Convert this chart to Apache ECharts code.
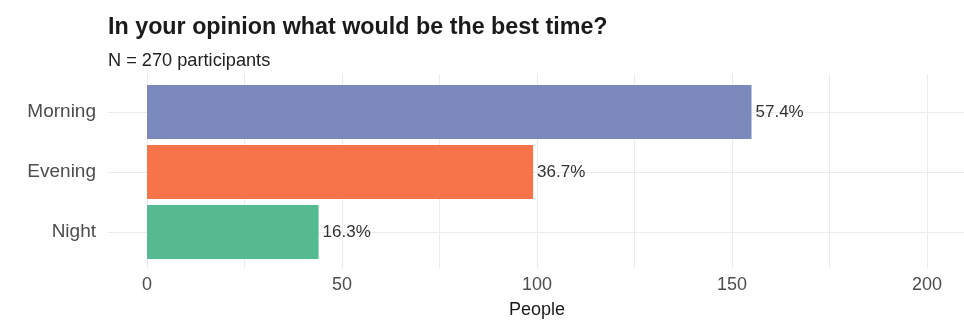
<!DOCTYPE html>
<html>
<head>
<meta charset="utf-8">
<script src="https://cdn.jsdelivr.net/npm/echarts@6/dist/echarts.min.js"></script>
<style>html,body{margin:0;padding:0;background:#fff;}#c{width:964px;height:322px;}</style>
</head>
<body>
<div id="c"></div>
<script>
const categories = ['Night', 'Evening', 'Morning'];
const people = [44, 99, 155];
const percentLabels = ['16.3%', '36.7%', '57.4%'];
const barColors = ['#55ba8f', '#f7744b', '#7b89bd'];
const xTickLabels = [0, 50, 100, 150, 200];
const xGridValues = [0, 25, 50, 75, 100, 125, 150, 175, 200];

const FONT = '"Liberation Sans", Arial, sans-serif';
const chart = echarts.init(document.getElementById('c'), null, {renderer: 'canvas'});
chart.setOption({
  backgroundColor: '#ffffff',
  animation: false,
  textStyle: {fontFamily: FONT},
  title: [
    {text: 'In your opinion what would be the best time?', left: 108, top: 16, padding: 0,
     textStyle: {fontSize: 23.3, fontWeight: 'bold', color: '#1a1a1a', fontFamily: FONT}},
    {text: 'N = 270 participants', left: 108, top: 52, padding: 0,
     textStyle: {fontSize: 18.2, fontWeight: 'normal', color: '#222', fontFamily: FONT}}
  ],
  grid: [
    {left: 108, right: -2, top: 82, bottom: 60, containLabel: false, outerBoundsMode: 'none'},
    {left: 108, right: -2, top: 74, bottom: 54, containLabel: false, outerBoundsMode: 'none'}
  ],
  xAxis: [
    {type: 'value', gridIndex: 0, min: -10, max: 210, show: false,
     splitLine: {show: false}},
    {type: 'value', gridIndex: 1, min: -10, max: 210,
     axisLine: {show: false},
     axisTick: {show: false, customValues: xGridValues},
     splitLine: {show: true, lineStyle: {color: '#ebebeb', width: 1}},
     axisLabel: {customValues: xTickLabels, fontSize: 18, color: '#4d4d4d', margin: 8, fontFamily: FONT},
     name: 'People', nameLocation: 'middle', nameGap: 33,
     nameTextStyle: {fontSize: 18, color: '#1a1a1a', fontFamily: FONT}}
  ],
  yAxis: [
    {type: 'category', gridIndex: 0, data: categories,
     axisLine: {show: false},
     axisTick: {show: false, alignWithLabel: true},
     splitLine: {show: true, alignWithLabel: true, lineStyle: {color: '#ebebeb', width: 1}},
     axisLabel: {fontSize: 19, color: '#4d4d4d', margin: 12, fontFamily: FONT}},
    {type: 'value', gridIndex: 1, show: false, splitLine: {show: false}}
  ],
  series: [{
    type: 'bar', xAxisIndex: 0, yAxisIndex: 0,
    barWidth: '90%',
    data: people.map((v, i) => ({value: v, itemStyle: {color: barColors[i]}})),
    label: {show: true, position: 'right', distance: 4,
      formatter: p => percentLabels[p.dataIndex],
      fontSize: 17, color: '#333', fontFamily: FONT}
  }]
});
</script>
</body>
</html>
